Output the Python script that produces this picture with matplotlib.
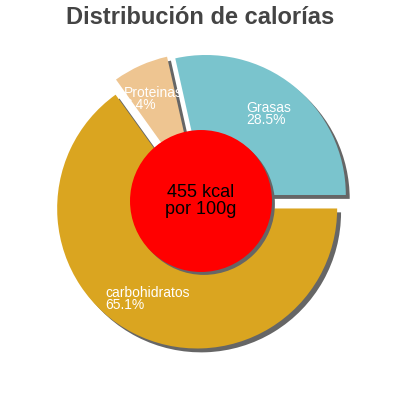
import matplotlib
matplotlib.use("Agg")
import matplotlib.pyplot as plt
from matplotlib.patches import Shadow, Circle

labels = ["Grasas", "Proteinas", "carbohidratos"]
values = [28.5, 6.4, 65.1]
colors = ["#7AC4CD", "#EEC591", "#DAA520"]
center_text = "455 kcal\npor 100g"
title = "Distribución de calorías"

plt.rcParams['font.family'] = ['Liberation Sans', 'DejaVu Sans']

fig = plt.figure(figsize=(4, 4), dpi=100)
ax = fig.add_axes([0, 0, 1, 1])
R = 140.0

wedges, _ = ax.pie(values, colors=colors, startangle=0, counterclock=True,
                   explode=[0.055, 0.06, 0.06], radius=1.0,
                   wedgeprops=dict(linewidth=0, zorder=2))
for w in wedges:
    ax.add_patch(Shadow(w, 0.02, -0.02, facecolor='#666666', edgecolor='none',
                        alpha=1, zorder=1))

circ = Circle((0, 0), 0.507, facecolor='red', edgecolor='none', zorder=4)
ax.add_patch(circ)
ax.add_patch(Shadow(circ, 0.015, -0.015, facecolor='#666666', edgecolor='none',
                    alpha=1, zorder=3))
ax.text(0, 0.0, center_text, ha='center', va='center', fontsize=13,
        color='black', zorder=5, linespacing=1.0)

label_pos = [(0.321, 0.621), (-0.55, 0.729), (-0.686, -0.70)]
for lab, v, (x, y) in zip(labels, values, label_pos):
    ax.text(x, y, f"{lab}\n{v}%", ha='left', va='center', fontsize=10,
            color='white', zorder=6, linespacing=0.85)

ax.set_xlim(-201 / R, 199 / R)
ax.set_ylim(-199 / R, 201 / R)
ax.set_aspect('equal')
ax.axis('off')

fig.text(0.5, 1 - 17 / 400, title, ha='center', va='center', fontsize=17,
         fontweight='bold', color='#444444')

fig.savefig("out.png", dpi=100)
